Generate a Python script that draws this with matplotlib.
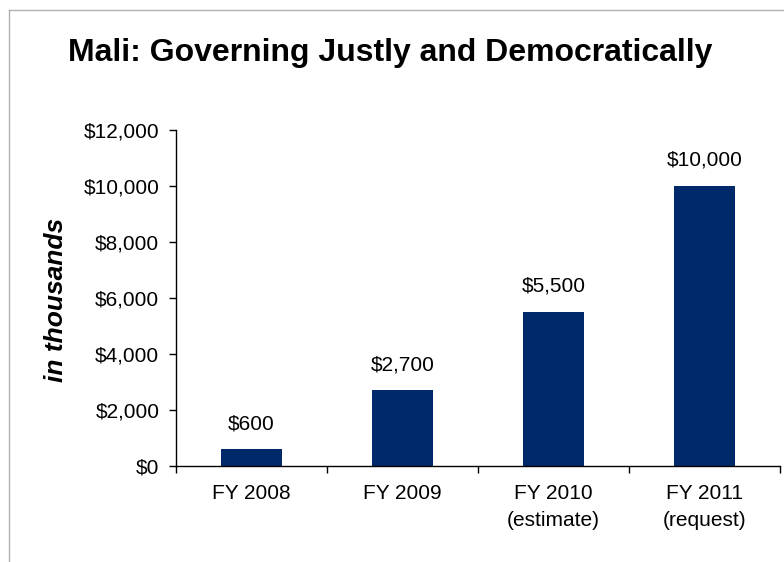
import matplotlib
matplotlib.use("Agg")
import matplotlib.pyplot as plt
from matplotlib.lines import Line2D
from matplotlib.ticker import FuncFormatter

# =========================
# data
# =========================
categories = ["FY 2008", "FY 2009", "FY 2010\n(estimate)", "FY 2011\n(request)"]
values = [600, 2700, 5500, 10000]
bar_labels = ["$600", "$2,700", "$5,500", "$10,000"]
title = "Mali: Governing Justly and Democratically"
ylabel = "in thousands"

plt.rcParams["font.family"] = ["Liberation Sans", "DejaVu Sans"]

fig = plt.figure(figsize=(7.84, 5.62), dpi=100)
ax = fig.add_axes([176 / 784, 1 - 466 / 562, 604 / 784, 336 / 562])

x = list(range(len(categories)))
bars = ax.bar(x, values, width=0.4, color="#00296B")

for b, lab in zip(bars, bar_labels):
    ax.annotate(lab, (b.get_x() + b.get_width() / 2, b.get_height()),
                xytext=(0, 18.5), textcoords="offset points",
                ha="center", va="center", fontsize=15)

ax.set_xlim(-0.5, 3.5)
ax.set_ylim(0, 12000)
ax.set_yticks(range(0, 12001, 2000))
ax.yaxis.set_major_formatter(FuncFormatter(lambda v, p: "${:,.0f}".format(v)))
ax.tick_params(axis="y", labelsize=15, length=5, width=1, pad=7)

ax.set_xticks(x)
ax.set_xticklabels(categories, fontsize=15, linespacing=1.55, va="top")
ax.set_xticks([-0.5, 0.5, 1.5, 2.5, 3.5], minor=True)
ax.tick_params(axis="x", which="major", length=0, pad=13)
ax.tick_params(axis="x", which="minor", length=5, width=1)

for s in ["top", "right"]:
    ax.spines[s].set_visible(False)
for s in ["left", "bottom"]:
    ax.spines[s].set_linewidth(1)

fig.text(390 / 784, 1 - 61 / 562, title, ha="center", va="baseline",
         fontsize=23, fontweight="bold")
fig.text(56 / 784, 1 - 300 / 562, ylabel, ha="center", va="center",
         rotation=90, fontsize=19, fontweight="bold", fontstyle="italic")

# frame lines (top and left)
fig.add_artist(Line2D([9 / 784, 9 / 784], [0, 1 - 9.5 / 562], transform=fig.transFigure,
                      color="#b0b0b0", linewidth=1))
fig.add_artist(Line2D([9 / 784, 1], [1 - 9.5 / 562, 1 - 9.5 / 562], transform=fig.transFigure,
                      color="#b0b0b0", linewidth=1))

fig.savefig("out.png", dpi=100)
